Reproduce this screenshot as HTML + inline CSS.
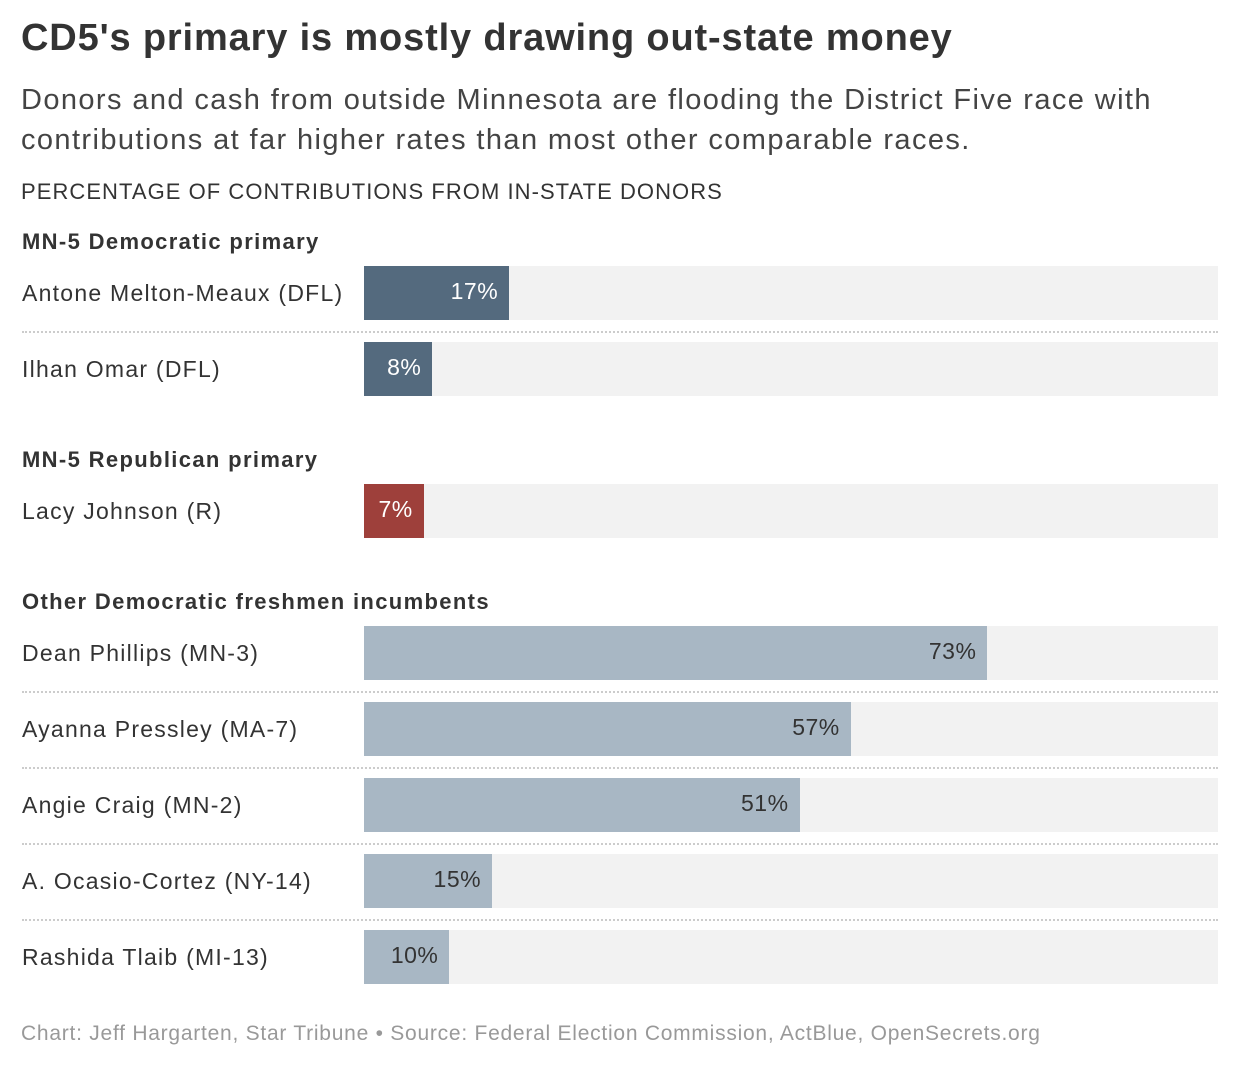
<!DOCTYPE html>
<html><head><meta charset="utf-8">
<style>
body{margin:0;width:1240px;height:1074px;background:#fff;font-family:"Liberation Sans",sans-serif;color:#333;position:relative;overflow:hidden}
.abs{position:absolute}
h1{position:absolute;left:21px;top:17px;margin:0;font-size:38px;font-weight:bold;color:#333;letter-spacing:0.85px;white-space:nowrap}
.sub{left:21px;top:80px;font-size:29px;line-height:40px;color:#444;width:1215px;letter-spacing:1.4px}
.ax{left:21px;top:179px;font-size:22px;color:#333;letter-spacing:1.05px}
.sec{left:22px;font-size:22px;font-weight:bold;color:#333;letter-spacing:1.35px}
.lbl{left:22px;font-size:23px;color:#333;letter-spacing:1.25px}
.track{left:364px;width:854px;height:54px;background:#f2f2f2}
.bar{height:54px;left:364px}
.val{font-size:23px;text-align:right;letter-spacing:0.5px}
.sep{left:22px;width:1196px;border-top:2px dotted #ccc;height:0}
.foot{left:21px;top:1022px;font-size:21px;color:#999;letter-spacing:0.75px;white-space:nowrap}
</style></head><body>
<h1>CD5's primary is mostly drawing out-state money</h1>
<div class="abs sub">Donors and cash from outside Minnesota are flooding the District Five race with<br>contributions at far higher rates than most other comparable races.</div>
<div class="abs ax">PERCENTAGE OF CONTRIBUTIONS FROM IN-STATE DONORS</div>
<div id="chart"></div>
<div class="abs foot">Chart: Jeff Hargarten, Star Tribune • Source: Federal Election Commission, ActBlue, OpenSecrets.org</div>
<script>
const sections = ["MN-5 Democratic primary","MN-5 Republican primary","Other Democratic freshmen incumbents"];
const sectionTops = [229,447,589];
const names = ["Antone Melton-Meaux (DFL)","Ilhan Omar (DFL)","Lacy Johnson (R)","Dean Phillips (MN-3)","Ayanna Pressley (MA-7)","Angie Craig (MN-2)","A. Ocasio-Cortez (NY-14)","Rashida Tlaib (MI-13)"];
const values = [17,8,7,73,57,51,15,10];
const group = [0,0,1,2,2,2,2,2];
const rowTops = [266,342,484,626,702,778,854,930];
const colors = ["#546a7e","#546a7e","#9e403b","#a8b7c4","#a8b7c4","#a8b7c4","#a8b7c4","#a8b7c4"];
const textColors = ["#fff","#fff","#fff","#333","#333","#333","#333","#333"];
const X0=364, W=854;
function x(v){return v/100*W;}
const c=document.getElementById('chart');
sections.forEach((s,i)=>{
  const d=document.createElement('div');d.className='abs sec';d.style.top=sectionTops[i]+'px';d.textContent=s;
  
  
  c.appendChild(d);
});
names.forEach((n,i)=>{
  const t=rowTops[i];
  const l=document.createElement('div');l.className='abs lbl';l.style.top=(t+14)+'px';l.textContent=n;
  
  
  c.appendChild(l);
  const tr=document.createElement('div');tr.className='abs track';tr.style.top=t+'px';
  
  
  c.appendChild(tr);
  const b=document.createElement('div');b.className='abs bar';b.style.top=t+'px';b.style.width=x(values[i])+'px';b.style.background=colors[i];
  
  
  c.appendChild(b);
  const v=document.createElement('div');v.className='abs val';v.style.top=(t+12)+'px';v.style.left=(X0)+'px';v.style.width=(x(values[i])-11)+'px';v.style.color=textColors[i];v.textContent=values[i]+'%';
  
  
  c.appendChild(v);
  if(i+1<names.length && group[i+1]===group[i]){
    const s=document.createElement('div');s.className='abs sep';s.style.top=(t+65)+'px';
    
    
    c.appendChild(s);
  }
});
</script>
</body></html>
